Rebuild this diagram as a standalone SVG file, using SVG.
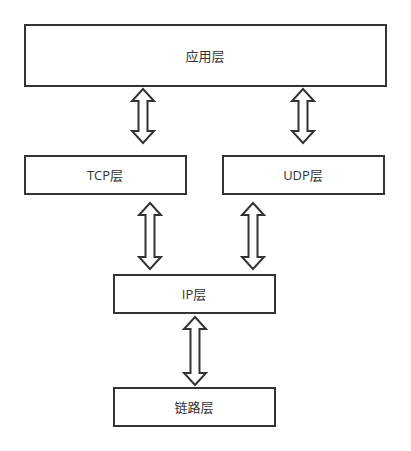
<svg xmlns="http://www.w3.org/2000/svg" xmlns:xlink="http://www.w3.org/1999/xlink" width="411" height="451" viewBox="0 0 411 451">
<style>
.box{fill:#fff;stroke:#333;stroke-width:2}
.lbl{font-family:"Open Sans","Noto Sans CJK SC",sans-serif;font-size:13px;fill:#333;text-anchor:middle;dominant-baseline:central}
.arr{fill:#fff;stroke:#333;stroke-width:2;stroke-linejoin:miter}
</style>
<rect width="411" height="451" fill="#fff"/>
<g id="connectors">
<path class="arr" d="M143,89 L154,101 L147.5,101 L147.5,131 L154,131 L143,143 L132,131 L138.5,131 L138.5,101 L132,101 Z"/>
<path class="arr" d="M303,89 L314,101 L307.5,101 L307.5,131 L314,131 L303,143 L292,131 L298.5,131 L298.5,101 L292,101 Z"/>
<path class="arr" d="M150,203 L161,215 L154.5,215 L154.5,257 L161,257 L150,269 L139,257 L145.5,257 L145.5,215 L139,215 Z"/>
<path class="arr" d="M253,203 L264,215 L257.5,215 L257.5,257 L264,257 L253,269 L242,257 L248.5,257 L248.5,215 L242,215 Z"/>
<path class="arr" d="M195,317 L206,329 L199.5,329 L199.5,373 L206,373 L195,385 L184,373 L190.5,373 L190.5,329 L184,329 Z"/>
</g>
<g id="app"><rect class="box" x="25" y="25" width="361" height="61"/><text class="lbl" x="205" y="56">应用层</text></g>
<g id="tcp"><rect class="box" x="25" y="156" width="161" height="38"/><text class="lbl" x="105" y="175">TCP层</text></g>
<g id="udp"><rect class="box" x="223" y="156" width="161" height="38"/><text class="lbl" x="303" y="175">UDP层</text></g>
<g id="ip"><rect class="box" x="114" y="275" width="161" height="38"/><text class="lbl" x="194" y="294">IP层</text></g>
<g id="link"><rect class="box" x="114" y="388" width="161" height="38"/><text class="lbl" x="194" y="407">链路层</text></g>
</svg>
